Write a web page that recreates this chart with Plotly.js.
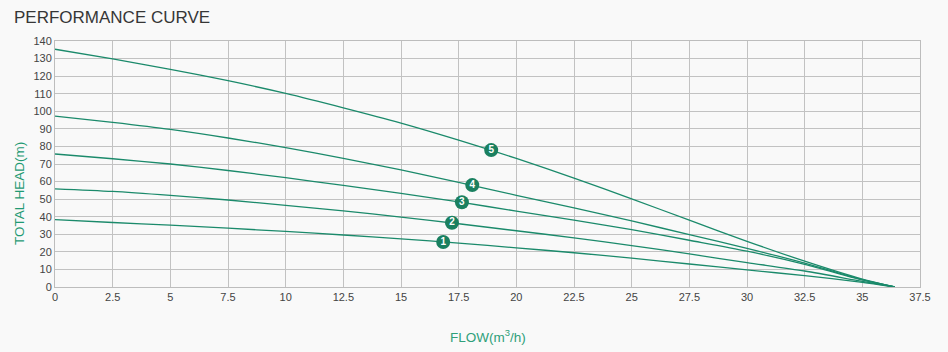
<!DOCTYPE html>
<html>
<head>
<meta charset="utf-8">
<script src="https://cdn.plot.ly/plotly-3.0.1.min.js"></script>
<style>
html,body{margin:0;padding:0;background:#f9f9f9;}
#chart{width:948px;height:352px;}
</style>
</head>
<body>
<div id="chart"></div>
<script>
// Flow values (m3/h)
const flow = [0, 2.5, 5, 7.5, 10, 12.5, 15, 17.5, 20, 22.5, 25, 27.5, 30, 32.5, 35, 36.4];
// Head values (m) per curve
const curve1 = [38.3, 36.7, 35.2, 33.5, 31.6, 29.6, 27.4, 25.0, 22.3, 19.5, 16.4, 13.1, 9.7, 6.5, 2.6, 0];
const curve2 = [55.9, 54.4, 52.1, 49.5, 46.5, 43.3, 39.8, 36.0, 32.0, 28.0, 23.6, 18.8, 13.9, 9.1, 3.2, 0];
const curve3 = [75.7, 73.0, 70.0, 66.3, 62.2, 57.8, 53.3, 48.4, 43.2, 38.0, 32.6, 26.6, 20.4, 12.9, 4.0, 0];
const curve4 = [97.3, 93.7, 89.7, 84.8, 79.3, 73.2, 66.6, 59.5, 52.2, 45.0, 37.6, 29.8, 22.0, 13.6, 4.2, 0];
const curve5 = [135.3, 129.8, 123.9, 117.4, 110.2, 102.0, 93.3, 83.6, 73.2, 62.0, 50.2, 38.0, 26.0, 14.7, 4.5, 0];
// Curve number labels
const labelText = ["1", "2", "3", "4", "5"];
const labelFlow = [16.83, 17.21, 17.64, 18.09, 18.91];
const labelHead = [25.6, 36.6, 48.2, 58.0, 77.9];
// Tick values
const xTicks = [0, 2.5, 5, 7.5, 10, 12.5, 15, 17.5, 20, 22.5, 25, 27.5, 30, 32.5, 35, 37.5];
const yTicks = [0, 10, 20, 30, 40, 50, 60, 70, 80, 90, 100, 110, 120, 130, 140];

const lineColor = '#1b8a6b';
const curves = [curve1, curve2, curve3, curve4, curve5];
const traces = curves.map((c, i) => ({
  x: flow, y: c, type: 'scatter', mode: 'lines',
  line: {color: lineColor, width: 1.3, shape: 'spline', smoothing: 0.8},
  hoverinfo: 'skip', showlegend: false, name: 'Curve ' + (i + 1)
}));
traces.push({
  x: labelFlow, y: labelHead, type: 'scatter', mode: 'markers+text',
  text: labelText, textposition: 'middle center',
  textfont: {color: '#ffffff', size: 10, family: 'Liberation Sans, Arial, sans-serif', weight: 'bold'},
  marker: {color: '#1a8060', size: 14, line: {width: 0}},
  showlegend: false, hoverinfo: 'skip'
});

const layout = {
  width: 948, height: 352,
  paper_bgcolor: '#f9f9f9', plot_bgcolor: '#f9f9f9',
  margin: {l: 55, r: 27.5, t: 41, b: 65},
  font: {family: 'Liberation Sans, Arial, sans-serif', color: '#444', size: 11},
  xaxis: {
    range: [0, 37.5], tickvals: xTicks, ticktext: xTicks.map(String),
    showgrid: true, gridcolor: '#c2c2c2', gridwidth: 1,
    showline: true, linecolor: '#bdbdbd', linewidth: 1, mirror: true,
    zeroline: false, ticks: '', fixedrange: true,
    tickfont: {size: 11, color: '#444'}
  },
  yaxis: {
    range: [0, 140], tickvals: yTicks, ticktext: yTicks.map(String),
    showgrid: true, gridcolor: '#c2c2c2', gridwidth: 1,
    showline: true, linecolor: '#bdbdbd', linewidth: 1, mirror: true,
    zeroline: false, ticks: '', fixedrange: true,
    tickfont: {size: 11, color: '#444'}
  },
  annotations: [
    {text: 'PERFORMANCE CURVE', xref: 'paper', yref: 'paper',
     x: (12 - 55) / 865.5, y: 1 + (41 - 18) / 246, xanchor: 'left', yanchor: 'middle',
     showarrow: false, font: {size: 17, color: '#363636'}},
    {text: 'TOTAL HEAD(m)', xref: 'paper', yref: 'paper', textangle: -90,
     x: (19 - 55) / 865.5, y: (287 - 194) / 246, xanchor: 'center', yanchor: 'middle',
     showarrow: false, font: {size: 13.5, color: '#1f9a73'}},
    {text: 'FLOW(m<sup>3</sup>/h)', xref: 'paper', yref: 'paper',
     x: 0.5, y: -(336 - 287) / 246, xanchor: 'center', yanchor: 'middle',
     showarrow: false, font: {size: 13.5, color: '#2fa07a'}}
  ]
};

Plotly.newPlot('chart', traces, layout, {displayModeBar: false, staticPlot: true});
</script>
</body>
</html>
